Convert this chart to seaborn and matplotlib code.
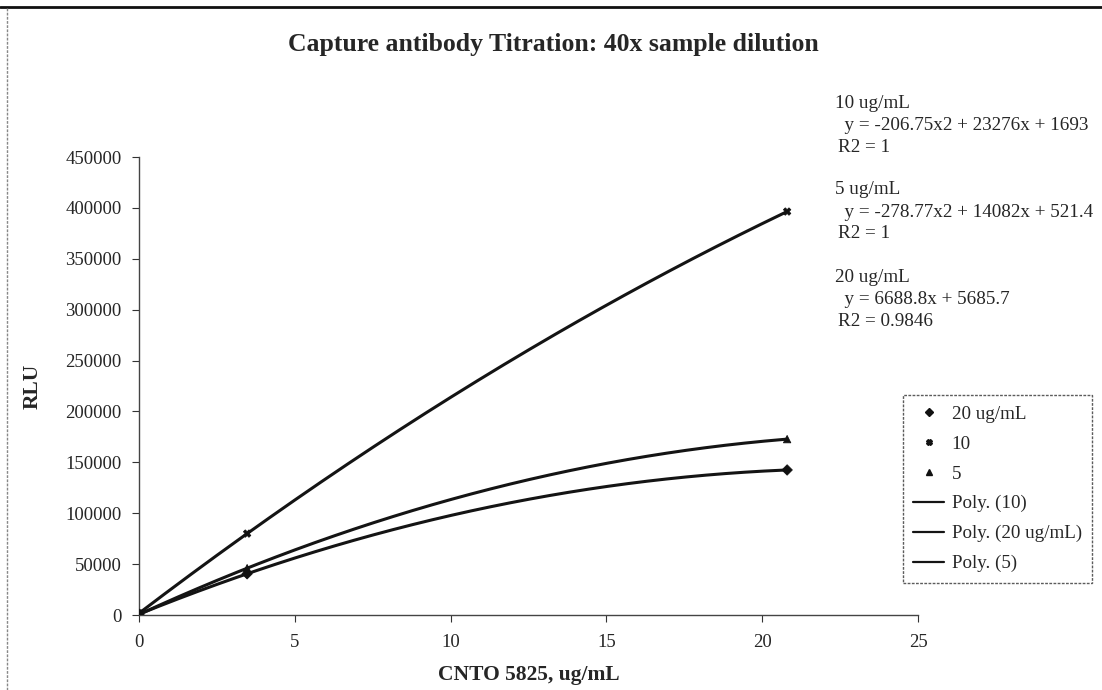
import numpy as np
import pandas as pd
import seaborn as sns
import matplotlib.pyplot as plt
from matplotlib.lines import Line2D

# Sample concentration (CNTO 5825, ug/mL)
conc = [0.0, 3.47, 20.8]

# RLU readings for each capture antibody coating level
rlu_20 = [800, 40500, 142500]
rlu_10 = [1700, 80000, 396400]
rlu_5 = [520, 46000, 172800]

series_names = ["20 ug/mL", "10", "5"]
x_ticks = [0, 5, 10, 15, 20, 25]
y_ticks = [0, 50000, 100000, 150000, 200000, 250000, 300000, 350000, 400000, 450000]

fit_notes = [
    ("10 ug/mL", "  y = -206.75x2 + 23276x + 1693", "R2 = 1"),
    ("5 ug/mL", "  y = -278.77x2 + 14082x + 521.4", "R2 = 1"),
    ("20 ug/mL", "  y = 6688.8x + 5685.7", "R2 = 0.9846"),
]

sns.set_theme(style="white")
plt.rcParams["font.family"] = ["Liberation Serif", "DejaVu Serif"]

df = pd.DataFrame({
    "conc": conc * 3,
    "rlu": rlu_20 + rlu_10 + rlu_5,
    "series": [n for n in series_names for _ in conc],
})

fig = plt.figure(figsize=(11.02, 6.9), dpi=100)
ax = fig.add_axes([139 / 1102, 1 - 615 / 690, (918 - 139) / 1102, (615 - 157) / 690])

# Second-order polynomial trend lines through each series
xs = np.linspace(min(conc), max(conc), 200)
trend_order = [("10", rlu_10, "Poly. (10)"),
               ("20 ug/mL", rlu_20, "Poly. (20 ug/mL)"),
               ("5", rlu_5, "Poly. (5)")]
line_handles = []
for name, ys, label in trend_order:
    coef = np.polyfit(conc, ys, 2)
    sns.lineplot(x=xs, y=np.polyval(coef, xs), ax=ax, color="#141414",
                 linewidth=2.2, legend=False)
    line_handles.append(Line2D([], [], color="#141414", linewidth=1.6, label=label))

markers = {"20 ug/mL": "D", "10": "X", "5": "^"}
sns.scatterplot(data=df, x="conc", y="rlu", hue="series", style="series",
                markers=markers, palette=["#111111"] * 3, s=28,
                edgecolor="#111111", linewidth=0.6, ax=ax, legend=False, zorder=5)

point_handles = [
    Line2D([], [], linestyle="none", marker=markers[n], color="#111111",
           markersize=4, label=n) for n in series_names
]

ax.set_xlim(0, 25)
ax.set_ylim(0, 450000)
ax.set_xticks(x_ticks)
ax.set_yticks(y_ticks)
ax.set_xticklabels([str(t) for t in x_ticks])
ax.set_yticklabels([str(t) for t in y_ticks])
ax.tick_params(axis="both", which="major", direction="out", length=5, width=0.8,
               color="#333333", labelsize=13.5, bottom=True, left=True)
ax.tick_params(axis="x", pad=9)
ax.tick_params(axis="y", pad=7.5)
for side in ("top", "right"):
    ax.spines[side].set_visible(False)
for side in ("left", "bottom"):
    ax.spines[side].set_color("#444444")
    ax.spines[side].set_linewidth(1.0)

ax.set_xlabel("CNTO 5825, ug/mL", fontsize=15.5, fontweight="bold", labelpad=10)
ax.set_ylabel("RLU", fontsize=15.5, fontweight="bold", labelpad=16)

fig.text(553 / 1102, 1 - 45 / 690, "Capture antibody Titration: 40x sample dilution",
         ha="center", va="center", fontsize=18.5, fontweight="bold")

# Trend-line equations
y0 = 103
for i, (head, eq, r2) in enumerate(fit_notes):
    base = y0 + i * 87
    fig.text(835 / 1102, 1 - base / 690, head, fontsize=13.8, va="center")
    fig.text(835 / 1102, 1 - (base + 22) / 690, eq, fontsize=13.8, va="center")
    fig.text(838 / 1102, 1 - (base + 44) / 690, r2, fontsize=13.8, va="center")

leg = fig.legend(handles=point_handles + line_handles, loc="upper left",
                 bbox_to_anchor=(903 / 1102, 1 - 395 / 690), frameon=True,
                 fancybox=False, fontsize=13.7, handlelength=1.6,
                 labelspacing=0.66, borderpad=0.55, handletextpad=0.4,
                 borderaxespad=0)
leg.get_frame().set_edgecolor("#333333")
leg.get_frame().set_linestyle((0, (2, 1)))
leg.get_frame().set_linewidth(1.0)

# Chart area border
fig.add_artist(Line2D([0, 1], [1 - 7 / 690, 1 - 7 / 690], transform=fig.transFigure,
                      color="#111111", linewidth=2.0))
fig.add_artist(Line2D([7 / 1102, 7 / 1102], [0, 1 - 7 / 690], transform=fig.transFigure,
                      color="#888888", linewidth=1.0, linestyle=(0, (2, 1))))

fig.savefig("out.png", dpi=100)
